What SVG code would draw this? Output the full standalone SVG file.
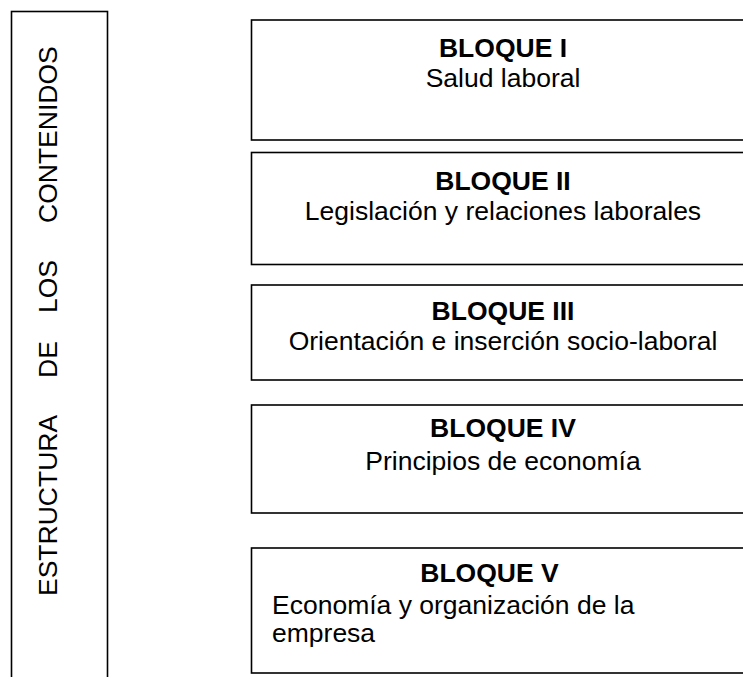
<svg xmlns="http://www.w3.org/2000/svg" width="743" height="677" viewBox="0 0 743 677">
<style>
.box{fill:#fff;stroke:#000;stroke-width:1.6}
.t{font-family:"Liberation Sans",Arial,sans-serif;font-size:26.5px;fill:#000}
.b{font-weight:bold}
.c{text-anchor:middle}
</style>
<rect width="743" height="677" fill="#fff"/>
<g id="estructura">
<rect class="box" x="11.5" y="11.5" width="96" height="700"/>
<text class="t" transform="rotate(-90)" y="57"><tspan x="-596">ESTRUCTURA</tspan><tspan x="-378">DE</tspan><tspan x="-313">LOS</tspan><tspan x="-223">CONTENIDOS</tspan></text>
</g>
<g id="bloque1">
<rect class="box" x="251.5" y="20" width="520" height="120"/>
<text class="t b c" x="503" y="57">BLOQUE I</text>
<text class="t c" x="503" y="87">Salud laboral</text>
</g>
<g id="bloque2">
<rect class="box" x="251.5" y="152.5" width="520" height="112"/>
<text class="t b c" x="503" y="190">BLOQUE II</text>
<text class="t c" x="503" y="220">Legislación y relaciones laborales</text>
</g>
<g id="bloque3">
<rect class="box" x="251.5" y="285" width="520" height="95"/>
<text class="t b c" x="503" y="320">BLOQUE III</text>
<text class="t c" x="503" y="350">Orientación e inserción socio-laboral</text>
</g>
<g id="bloque4">
<rect class="box" x="251.5" y="405" width="520" height="108"/>
<text class="t b c" x="503" y="437">BLOQUE IV</text>
<text class="t c" x="503" y="470">Principios de economía</text>
</g>
<g id="bloque5">
<rect class="box" x="251.5" y="548" width="520" height="125"/>
<text class="t b c" x="489.5" y="582">BLOQUE V</text>
<text class="t" x="272" y="614">Economía y organización de la</text>
<text class="t" x="272" y="642">empresa</text>
</g>
<g id="connectors"/>
</svg>
